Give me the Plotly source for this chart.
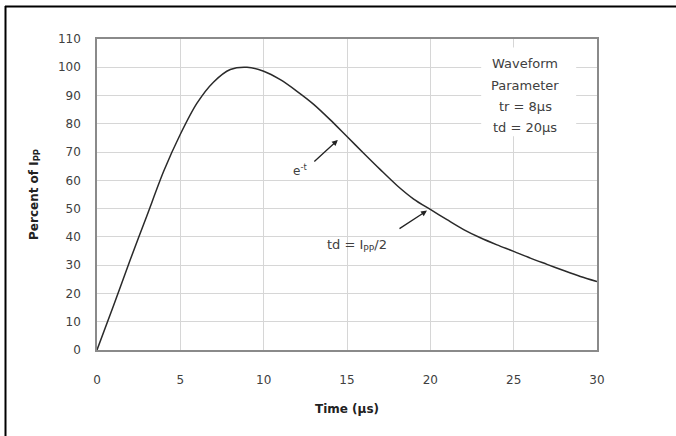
import plotly.graph_objects as go

time_us = [0, 1, 2, 3, 4, 5, 6, 7, 8, 9, 10, 11, 12, 13, 14, 15,
           16, 17, 18, 19, 20, 21, 22, 23, 24, 25, 26, 27, 28, 29, 30]
percent_ipp = [0, 15.8, 32.0, 47.6, 63.2, 76.3, 87.3, 94.8, 99.2, 100.0, 98.6,
               95.6, 91.5, 86.9, 81.4, 75.5, 69.6, 63.8, 58.2, 53.4, 49.7,
               46.1, 42.6, 39.7, 37.2, 34.9, 32.5, 30.3, 28.1, 26.0, 24.2]

x_ticks = [0, 5, 10, 15, 20, 25, 30]
y_ticks = [0, 10, 20, 30, 40, 50, 60, 70, 80, 90, 100, 110]

param_lines = ["Waveform", "Parameter", "tr = 8μs", "td = 20μs"]
param_line_y = [101.5, 93.6, 86.0, 78.8]

font_family = "DejaVu Sans, Verdana, sans-serif"
text_color = "#404040"

fig = go.Figure()
fig.add_trace(go.Scatter(
    x=time_us, y=percent_ipp, mode="lines",
    line=dict(color="#2a2a2a", width=1.5, shape="spline", smoothing=0.8),
    showlegend=False, hoverinfo="skip",
))

axis_common = dict(
    showline=True, linecolor="#8a8a8a", linewidth=1.5, mirror=True,
    showgrid=True, gridcolor="#d6d6d6", gridwidth=1,
    zeroline=False, ticks="",
    tickfont=dict(family=font_family, size=12, color=text_color),
)

fig.update_layout(
    width=676, height=436,
    margin=dict(l=97, r=79, t=39, b=86),
    paper_bgcolor="white", plot_bgcolor="white",
    font=dict(family=font_family, color=text_color),
    xaxis=dict(range=[0, 30], tickvals=x_ticks, ticklabelstandoff=18,
               title=dict(text="<b>Time (μs)</b>", font=dict(size=12, color="#222"), standoff=18),
               **axis_common),
    yaxis=dict(range=[0, 110], tickvals=y_ticks, ticklabelstandoff=12,
               title=dict(text="<b>Percent of I<sub>PP</sub></b>", font=dict(size=12, color="#222"), standoff=17),
               **axis_common),
)

# arrows and labels
fig.add_annotation(x=14.45, y=74.3, ax=-25, ay=23, text="", showarrow=True,
                   arrowhead=2, arrowsize=0.9, arrowwidth=1.3, arrowcolor="#222")
fig.add_annotation(x=12.2, y=63.5, text="e<sup>-t</sup>", showarrow=False,
                   font=dict(size=12, color=text_color))
fig.add_annotation(x=19.8, y=49.3, ax=-29, ay=19, text="", showarrow=True,
                   arrowhead=2, arrowsize=0.9, arrowwidth=1.3, arrowcolor="#222")
fig.add_annotation(x=15.6, y=37.0, text="td = I<sub>PP</sub>/2", showarrow=False,
                   font=dict(size=13, color=text_color))

# white panel behind the waveform parameters (between gridlines and trace)
fig.add_shape(type="rect", xref="x", yref="y", x0=23.05, x1=28.75, y0=75.6, y1=107.0,
              fillcolor="white", line=dict(width=0), layer="between")
for line_text, line_y in zip(param_lines, param_line_y):
    fig.add_annotation(x=25.7, y=line_y, text=line_text, showarrow=False,
                       font=dict(size=13, color=text_color))

# frame lines (top and left) of the cropped picture
fig.add_shape(type="line", xref="paper", yref="paper", x0=-0.184, x1=1.16, y0=1.1045, y1=1.1045,
              line=dict(color="black", width=2))
fig.add_shape(type="line", xref="paper", yref="paper", x0=-0.183, x1=-0.183, y0=1.106, y1=-0.28,
              line=dict(color="black", width=2))

fig.write_html("out.html")
